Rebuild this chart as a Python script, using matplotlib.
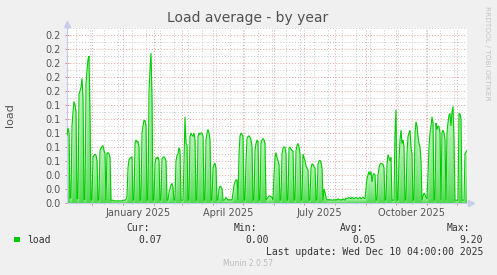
import numpy as np
import matplotlib
matplotlib.use("Agg")
import matplotlib.pyplot as plt
import matplotlib.dates as mdates
from matplotlib.ticker import MultipleLocator, FixedLocator, NullFormatter, FuncFormatter
from matplotlib.patches import Rectangle
from datetime import datetime, timedelta

# ---------------- data ----------------
start = datetime(2024, 11, 5, 4, 0)
end = datetime(2025, 12, 10, 4, 0)

load_nov_2024 = [0.097, 0.107, 0.100, 0.007, 0.007, 0.110, 0.130, 0.145, 0.140, 0.130,
                 0.006, 0.006, 0.155, 0.160, 0.165, 0.178, 0.150, 0.005, 0.005, 0.170,
                 0.190, 0.205, 0.210, 0.120, 0.004, 0.004]
load_dec_2024 = [0.065, 0.068, 0.070, 0.068, 0.060, 0.004, 0.004, 0.075, 0.078, 0.081,
                 0.082, 0.075, 0.070, 0.004, 0.071, 0.072, 0.070, 0.065, 0.004, 0.004,
                 0.004, 0.003, 0.003, 0.003, 0.003, 0.003, 0.003, 0.003, 0.003, 0.003,
                 0.004]
load_jan_2025 = [0.004, 0.004, 0.005, 0.010, 0.050, 0.062, 0.064, 0.065, 0.066, 0.004,
                 0.004, 0.085, 0.090, 0.087, 0.088, 0.080, 0.004, 0.004, 0.100, 0.110,
                 0.118, 0.118, 0.110, 0.004, 0.004, 0.160, 0.190, 0.214, 0.150, 0.004,
                 0.004]
load_feb_2025 = [0.055, 0.065, 0.063, 0.066, 0.060, 0.004, 0.004, 0.063, 0.065, 0.066,
                 0.064, 0.060, 0.004, 0.004, 0.015, 0.020, 0.026, 0.028, 0.022, 0.004,
                 0.004, 0.060, 0.068, 0.070, 0.079, 0.075, 0.004, 0.004]
load_mar_2025 = [0.004, 0.060, 0.123, 0.085, 0.083, 0.004, 0.004, 0.095, 0.100, 0.097,
                 0.095, 0.100, 0.090, 0.004, 0.004, 0.095, 0.100, 0.098, 0.100, 0.100,
                 0.095, 0.004, 0.004, 0.090, 0.100, 0.105, 0.100, 0.090, 0.004, 0.004,
                 0.050]
load_apr_2025 = [0.055, 0.057, 0.050, 0.004, 0.004, 0.020, 0.024, 0.023, 0.020, 0.004,
                 0.004, 0.005, 0.008, 0.006, 0.004, 0.005, 0.004, 0.005, 0.004, 0.015,
                 0.025, 0.030, 0.033, 0.033, 0.004, 0.070, 0.095, 0.100, 0.098, 0.095]
load_may_2025 = [0.004, 0.004, 0.060, 0.092, 0.095, 0.096, 0.094, 0.090, 0.080, 0.004,
                 0.004, 0.075, 0.085, 0.090, 0.088, 0.004, 0.004, 0.085, 0.090, 0.092,
                 0.090, 0.085, 0.004, 0.006, 0.008, 0.010, 0.010, 0.009, 0.008, 0.004,
                 0.040]
load_jun_2025 = [0.065, 0.072, 0.065, 0.060, 0.055, 0.004, 0.004, 0.070, 0.078, 0.080,
                 0.080, 0.070, 0.004, 0.004, 0.078, 0.080, 0.077, 0.075, 0.074, 0.004,
                 0.004, 0.075, 0.082, 0.085, 0.080, 0.070, 0.004, 0.004, 0.070, 0.065]
load_jul_2025 = [0.060, 0.053, 0.050, 0.047, 0.004, 0.004, 0.050, 0.056, 0.055, 0.052,
                 0.050, 0.004, 0.004, 0.055, 0.060, 0.061, 0.058, 0.050, 0.004, 0.020,
                 0.015, 0.008, 0.005, 0.004, 0.005, 0.004, 0.005, 0.004, 0.004, 0.005,
                 0.004]
load_aug_2025 = [0.005, 0.004, 0.006, 0.005, 0.004, 0.005, 0.004, 0.006, 0.005, 0.004,
                 0.007, 0.006, 0.007, 0.008, 0.007, 0.006, 0.008, 0.007, 0.006, 0.007,
                 0.008, 0.007, 0.006, 0.007, 0.008, 0.006, 0.007, 0.008, 0.007, 0.006,
                 0.020]
load_sep_2025 = [0.035, 0.040, 0.045, 0.040, 0.045, 0.030, 0.040, 0.042, 0.040, 0.004,
                 0.004, 0.040, 0.050, 0.055, 0.057, 0.056, 0.055, 0.050, 0.004, 0.004,
                 0.055, 0.069, 0.065, 0.060, 0.065, 0.004, 0.004, 0.004, 0.100, 0.133]
load_oct_2025 = [0.004, 0.004, 0.060, 0.090, 0.104, 0.085, 0.090, 0.080, 0.004, 0.004,
                 0.070, 0.095, 0.100, 0.104, 0.080, 0.070, 0.004, 0.004, 0.100, 0.116,
                 0.110, 0.095, 0.085, 0.080, 0.060, 0.004, 0.010, 0.014, 0.012, 0.008,
                 0.006]
load_nov_2025 = [0.040, 0.080, 0.100, 0.110, 0.123, 0.115, 0.004, 0.004, 0.114, 0.105,
                 0.110, 0.109, 0.100, 0.004, 0.100, 0.104, 0.100, 0.090, 0.004, 0.100,
                 0.115, 0.125, 0.128, 0.110, 0.130, 0.138, 0.090, 0.004, 0.004, 0.004]
load_dec_2025 = [0.004, 0.128, 0.127, 0.120, 0.004, 0.004, 0.004, 0.070, 0.073, 0.075]

quarter_labels = ["January 2025", "April 2025", "July 2025", "October 2025"]
quarter_label_dates = [datetime(2025, 1, 15, 16), datetime(2025, 4, 15, 16),
                       datetime(2025, 7, 15, 16), datetime(2025, 10, 15, 16)]

stat_names = ["Cur:", "Min:", "Avg:", "Max:"]
stat_values = ["0.07", "0.00", "0.05", "9.20"]
series_name = "load"
title = "Load average - by year"
last_update = "Last update: Wed Dec 10 04:00:00 2025"

# ---------------- build ----------------
load_values = np.array(load_nov_2024 + load_dec_2024 + load_jan_2025 + load_feb_2025 +
                       load_mar_2025 + load_apr_2025 + load_may_2025 + load_jun_2025 +
                       load_jul_2025 + load_aug_2025 + load_sep_2025 + load_oct_2025 +
                       load_nov_2025 + load_dec_2025)
dates = [start + timedelta(days=i + 0.5) for i in range(len(load_values))]
dn = mdates.date2num(dates)
x0, x1 = mdates.date2num(start), mdates.date2num(end)
ymax = 0.25

W, H = 497, 275
fig = plt.figure(figsize=(W / 100, H / 100), dpi=100, facecolor="#F0F0F0")
L, R, T, B = 66.5, 466.5, 28, 203
ax = fig.add_axes([L / W, 1 - B / H, (R - L) / W, (B - T) / H])
ax.set_facecolor("white")

# gradient area
nx, ny = 1600, 700
xs = np.linspace(x0, x1, nx)
ys = np.linspace(0, ymax, ny)
v = np.interp(xs, dn, load_values)
Y = ys[:, None]
V = v[None, :]
t = np.clip(Y / np.maximum(V, 1e-9), 0, 1) ** 0.7
inside = (Y <= V).astype(float)
bot_c = np.array([0.28, 0.85, 0.28])
top_c = np.array([0.74, 0.95, 0.74])
rgb = bot_c[None, None, :] * (1 - t[..., None]) + top_c[None, None, :] * t[..., None]
img = np.dstack([rgb, inside])
ax.imshow(img, extent=[x0, x1, 0, ymax], origin="lower", aspect="auto",
          interpolation="bilinear", zorder=1)
ax.plot(dn, load_values, color="#00CC00", lw=0.8, zorder=3, solid_joinstyle="miter")

ax.set_xlim(x0, x1)
ax.set_ylim(0, ymax)

# grid
month_starts = [datetime(2024, 12, 1)] + [datetime(2025, m, 1) for m in range(1, 13)]
minor_days = []
d = datetime(2024, 11, 15)
while d < end:
    minor_days.append(d)
    d += timedelta(days=14)
ax.xaxis.set_major_locator(FixedLocator(mdates.date2num(month_starts)))
ax.xaxis.set_minor_locator(FixedLocator(mdates.date2num(minor_days)))
ax.xaxis.set_major_formatter(NullFormatter())
ax.xaxis.set_minor_formatter(NullFormatter())
ax.yaxis.set_major_locator(MultipleLocator(0.02))
ax.yaxis.set_minor_locator(MultipleLocator(0.01))
ax.yaxis.set_major_formatter(FuncFormatter(lambda y, p: "%.1f" % y))

ax.grid(which="minor", color="#C8C8C8", lw=0.7, ls=(0, (1, 2)), zorder=0)
ax.grid(which="major", color="#E9A0A0", lw=0.7, ls=(0, (1, 2)), zorder=0)
ax.set_axisbelow(True)

for s in ["top", "right"]:
    ax.spines[s].set_visible(False)
for s in ["left", "bottom"]:
    ax.spines[s].set_color("#C8CCEE")
    ax.spines[s].set_linewidth(0.8)

ax.tick_params(axis="x", which="major", direction="inout", length=3, color="#E08080", width=0.7)
ax.tick_params(axis="x", which="minor", direction="inout", length=2, color="#C0C0C0", width=0.7)
ax.tick_params(axis="y", which="major", direction="inout", length=3, color="#E08080",
               width=0.7, labelsize=7, labelcolor="#555555", pad=2.5)
ax.tick_params(axis="y", which="minor", direction="inout", length=2, color="#C0C0C0", width=0.7)

# arrows
ax.plot([0], [1.022], marker="^", ms=5, color="#C8CCEE", transform=ax.transAxes, clip_on=False)
ax.plot([1.012], [0], marker=">", ms=5, color="#C8CCEE", transform=ax.transAxes, clip_on=False)

for lab, dd in zip(quarter_labels, quarter_label_dates):
    ax.text(mdates.date2num(dd), -9.7 / (B - T) * ymax, lab, ha="center", va="center",
            fontsize=7, color="#555555", clip_on=False)

# texts
fig.text(248 / W, 1 - 18 / H, title, ha="center", va="center", fontsize=10, color="#505050")
fig.text(10 / W, 1 - 115 / H, "load", rotation=90, ha="center", va="center",
         fontsize=8, color="#555555")
fig.text(487 / W, 1 - 53.5 / H, "RRDTOOL / TOBI OETIKER", rotation=270, ha="center",
         va="center", fontsize=5.3, color="#C4C4C4")

fig.patches.append(Rectangle((14 / W, 1 - 242 / H), 5.5 / W, 5.5 / H, transform=fig.transFigure,
                             facecolor="#00CC00", edgecolor="none"))
mono = "DejaVu Sans Mono"
fig.text(27 / W, 1 - 240 / H, series_name, ha="left", va="center", fontsize=7,
         family=mono, color="#333333")
name_right = [150, 257, 363, 470]
val_right = [162, 269, 376, 483]
for nm, vl, xr, xv in zip(stat_names, stat_values, name_right, val_right):
    fig.text(xr / W, 1 - 228 / H, nm, ha="right", va="center", fontsize=7, family=mono, color="#333333")
    fig.text(xv / W, 1 - 240 / H, vl, ha="right", va="center", fontsize=7, family=mono, color="#333333")
fig.text(483 / W, 1 - 252 / H, last_update, ha="right", va="center", fontsize=7,
         family=mono, color="#333333")
fig.text(248 / W, 1 - 264 / H, "Munin 2.0.57", ha="center", va="center", fontsize=5.5,
         color="#BBBBBB")

fig.savefig("out.png", dpi=100, facecolor=fig.get_facecolor())
